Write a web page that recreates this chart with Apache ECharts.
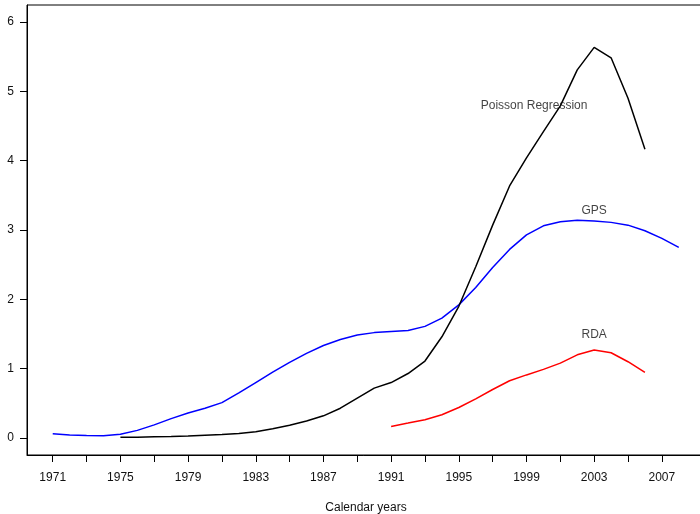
<!DOCTYPE html>
<html>
<head>
<meta charset="utf-8">
<script src="https://cdn.jsdelivr.net/npm/echarts@6/dist/echarts.min.js"></script>
<style>
html,body{margin:0;padding:0;background:#fff;}
#chart{width:700px;height:514px;}
</style>
</head>
<body>
<div id="chart"></div>
<script>
// ---- data ----
var gpsYears = [1971,1972,1973,1974,1975,1976,1977,1978,1979,1980,1981,1982,1983,1984,1985,1986,1987,1988,1989,1990,1991,1992,1993,1994,1995,1996,1997,1998,1999,2000,2001,2002,2003,2004,2005,2006,2007,2008];
var gpsValues = [0.06,0.045,0.035,0.032,0.055,0.11,0.19,0.28,0.36,0.43,0.51,0.65,0.80,0.95,1.09,1.22,1.335,1.42,1.485,1.52,1.535,1.55,1.61,1.73,1.92,2.17,2.46,2.72,2.93,3.06,3.12,3.14,3.13,3.11,3.07,2.99,2.88,2.75];

var poissonYears = [1975,1976,1977,1978,1979,1980,1981,1982,1983,1984,1985,1986,1987,1988,1989,1990,1991,1992,1993,1994,1995,1996,1997,1998,1999,2000,2001,2002,2003,2004,2005,2006];
var poissonValues = [0.01,0.012,0.017,0.023,0.03,0.04,0.05,0.065,0.09,0.135,0.185,0.245,0.32,0.43,0.575,0.72,0.80,0.93,1.11,1.46,1.90,2.47,3.07,3.635,4.04,4.42,4.79,5.31,5.634,5.484,4.90,4.164];

var rdaYears = [1991,1992,1993,1994,1995,1996,1997,1998,1999,2000,2001,2002,2003,2004,2005,2006];
var rdaValues = [0.167,0.215,0.264,0.336,0.44,0.565,0.70,0.826,0.91,0.99,1.08,1.2,1.27,1.23,1.10,0.945];

var xTickValues = [1971,1973,1975,1977,1979,1981,1983,1985,1987,1989,1991,1993,1995,1997,1999,2001,2003,2005,2007];
var xLabelValues = [1971,1975,1979,1983,1987,1991,1995,1999,2003,2007];
var yTickValues = [0,1,2,3,4,5,6];

var annotationText = ['Poisson Regression','GPS','RDA'];
var annotationX = [1999.45, 2003.0, 2003.0];
var annotationY = [4.79, 3.28, 1.49];

var xTitle = 'Calendar years';

function pairs(xs, ys){ var out=[]; for(var i=0;i<xs.length;i++){ out.push([xs[i], ys[i]]); } return out; }

var FONT = '"Liberation Sans", Arial, Helvetica, sans-serif';
var chart = echarts.init(document.getElementById('chart'), null, {renderer:'canvas'});

var annotationSeries = annotationText.map(function(t, i){
  return {
    type:'scatter', data:[[annotationX[i], annotationY[i]]], symbolSize:0, silent:true,
    label:{show:true, position:'inside', formatter:t, color:'#111', fontSize:12, fontFamily:FONT},
    z:5
  };
});

chart.setOption({
  animation:false,
  backgroundColor:'#fff',
  grid:{left:27, right:-5, top:5, bottom:59, show:true, borderColor:'#000', borderWidth:1, backgroundColor:'transparent',
    containLabel:false, outerBoundsMode:'none'},
  xAxis:{
    type:'value', min:1969.48, max:2009.55,
    name:xTitle, nameLocation:'middle', nameGap:47,
    nameTextStyle:{color:'#111', fontSize:12, fontFamily:FONT},
    axisLine:{show:true, onZero:false, lineStyle:{color:'#000', width:1}},
    axisTick:{show:true, length:7, customValues:xTickValues, lineStyle:{color:'#000', width:1}},
    axisLabel:{show:true, customValues:xLabelValues, margin:17, color:'#111', fontSize:12, fontFamily:FONT,
      formatter:function(v){ return String(v); }},
    splitLine:{show:false}
  },
  yAxis:{
    type:'value', min:-0.245, max:6.245,
    axisLine:{show:true, onZero:false, lineStyle:{color:'#000', width:1}},
    axisTick:{show:true, length:7, customValues:yTickValues, lineStyle:{color:'#000', width:1}},
    axisLabel:{show:true, customValues:yTickValues, margin:13, color:'#111', fontSize:12, fontFamily:FONT},
    splitLine:{show:false}
  },
  series:[
    {type:'line', name:'GPS', data:pairs(gpsYears, gpsValues), showSymbol:false, smooth:false,
      lineStyle:{color:'#0000ff', width:1.5}, itemStyle:{color:'#0000ff'}},
    {type:'line', name:'Poisson Regression', data:pairs(poissonYears, poissonValues), showSymbol:false, smooth:false,
      lineStyle:{color:'#000000', width:1.5}, itemStyle:{color:'#000000'}},
    {type:'line', name:'RDA', data:pairs(rdaYears, rdaValues), showSymbol:false, smooth:false,
      lineStyle:{color:'#ff0000', width:1.5}, itemStyle:{color:'#ff0000'}}
  ].concat(annotationSeries)
});
</script>
</body>
</html>
